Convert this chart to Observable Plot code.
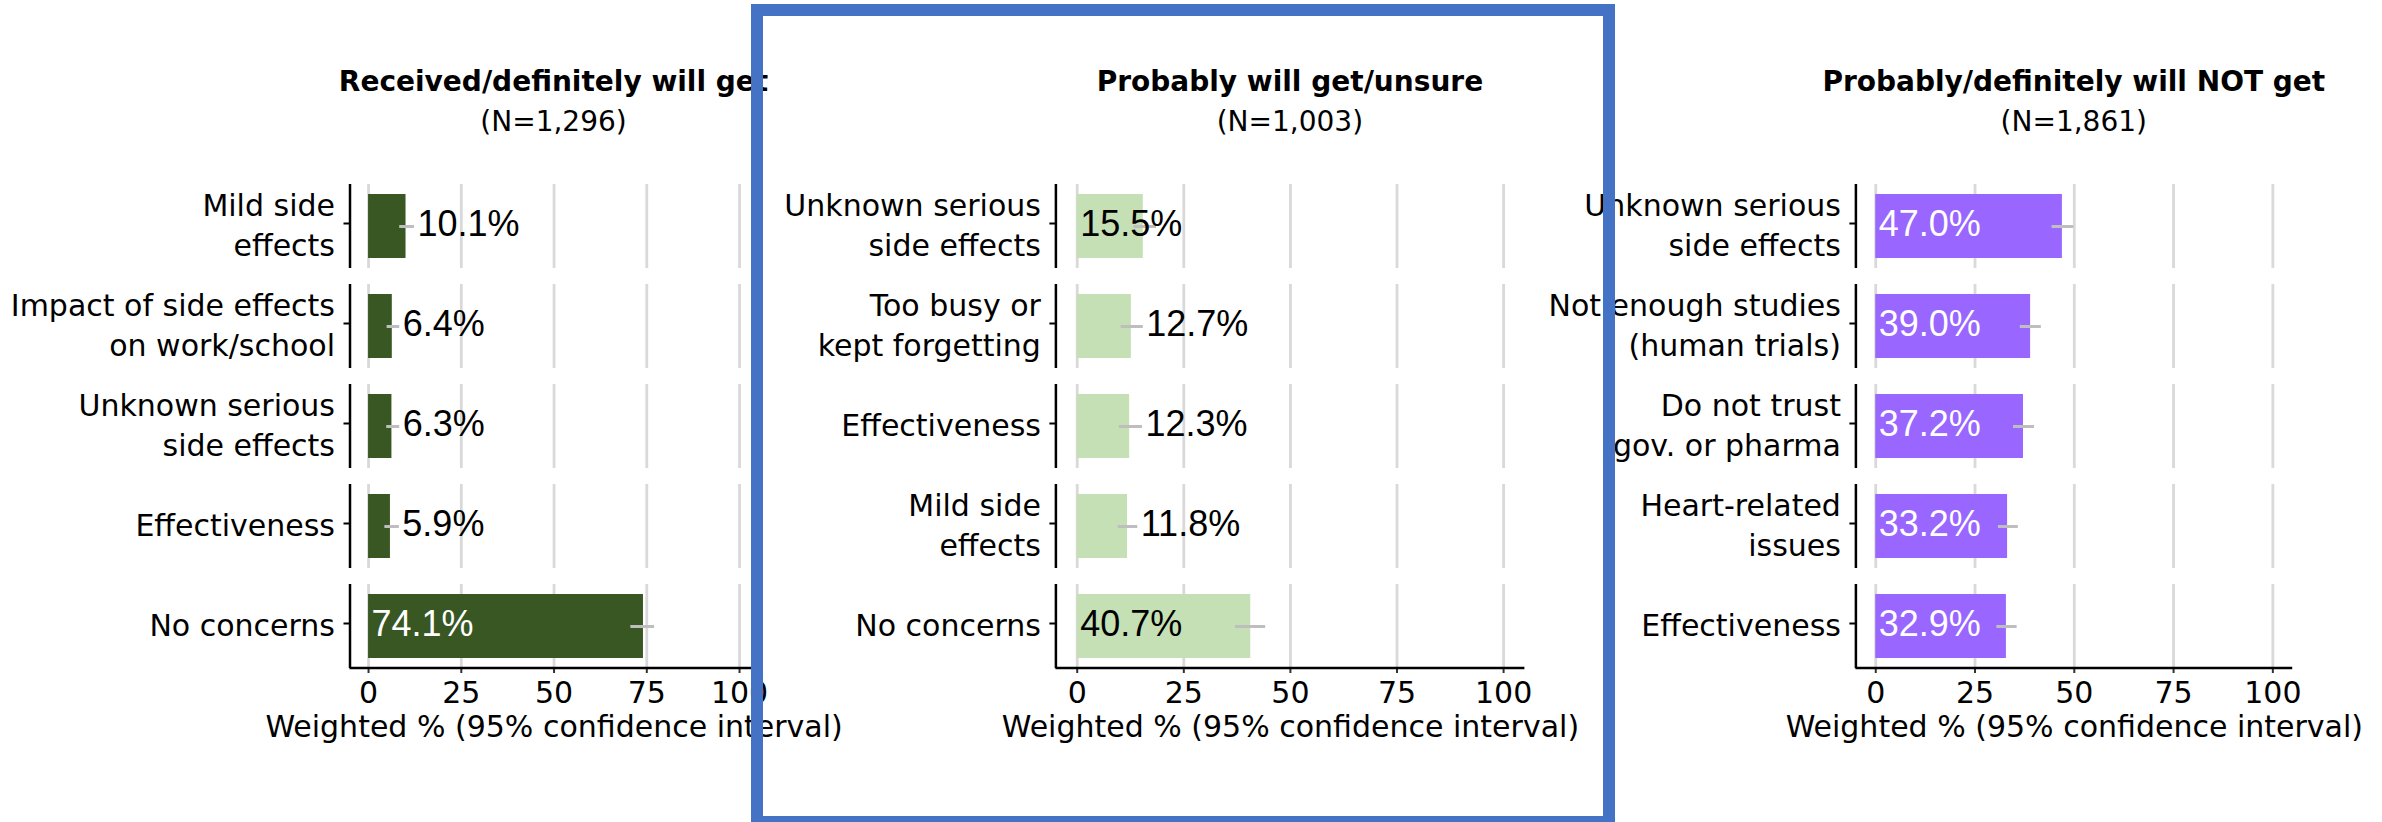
<!DOCTYPE html>
<html>
<head>
<meta charset="utf-8">
<script src="https://cdn.jsdelivr.net/npm/d3@7"></script>
<script src="https://cdn.jsdelivr.net/npm/@observablehq/plot@0.6"></script>
<style>
  html, body { margin: 0; padding: 0; background: #fff; overflow: hidden; }
  #root { position: relative; width: 2382px; height: 822px; background: #fff; overflow: hidden; }
  .layer { position: absolute; left: 0; top: 0; }
  .ptitle { position: absolute; top: 62px; width: 1000px; text-align: center;
            font-family: "DejaVu Sans", sans-serif; font-size: 28px; line-height: 40px;
            color: #000; white-space: nowrap; }
  .ptitle b { font-weight: bold; }
  #box { position: absolute; left: 751px; top: 4px; width: 864px; height: 824px;
         border: 12px solid #4472C4; box-sizing: border-box; pointer-events: none; }
</style>
</head>
<body>
<div id="root"></div>
<script>
// ---------------- data ----------------
const panelTitles = ["Received/definitely will get", "Probably will get/unsure", "Probably/definitely will NOT get"];
const nLabels = ["(N=1,296)", "(N=1,003)", "(N=1,861)"];

const cats1 = ["Mild side\neffects", "Impact of side effects\non work/school", "Unknown serious\nside effects", "Effectiveness", "No concerns"];
const vals1 = [10.1, 6.4, 6.3, 5.9, 74.1];
const lo1   = [8.4, 5.0, 4.9, 4.4, 70.7];
const hi1   = [12.4, 8.4, 8.4, 8.3, 77.1];

const cats2 = ["Unknown serious\nside effects", "Too busy or\nkept forgetting", "Effectiveness", "Mild side\neffects", "No concerns"];
const vals2 = [15.5, 12.7, 12.3, 11.8, 40.7];
const lo2   = [13.3, 10.3, 9.9, 9.6, 37.1];
const hi2   = [18.6, 15.5, 15.3, 14.2, 44.2];

const cats3 = ["Unknown serious\nside effects", "Not enough studies\n(human trials)", "Do not trust\ngov. or pharma", "Heart-related\nissues", "Effectiveness"];
const vals3 = [47.0, 39.0, 37.2, 33.2, 32.9];
const lo3   = [44.4, 36.4, 34.7, 30.9, 30.5];
const hi3   = [49.9, 41.7, 40.0, 35.9, 35.6];

const xTicks = [0, 25, 50, 75, 100];
const axisTitle = "Weighted % (95% confidence interval)";

// ---------------- layout / style ----------------
const W = 2382, H = 822;
const xDomain = [-5, 105];
const panelTop = 184, panelBottom = 668;

const panels = [
  {title: panelTitles[0], n: nLabels[0], cats: cats1, vals: vals1, lo: lo1, hi: hi1,
   fill: "#385723", inText: "#ffffff", outText: "#000000", left: 349.5, right: 757.6},
  {title: panelTitles[1], n: nLabels[1], cats: cats2, vals: vals2, lo: lo2, hi: hi2,
   fill: "#C5E0B4", inText: "#000000", outText: "#000000", left: 1055.4, right: 1524.4},
  {title: panelTitles[2], n: nLabels[2], cats: cats3, vals: vals3, lo: lo3, hi: hi3,
   fill: "#9966FF", inText: "#ffffff", outText: "#000000", left: 1855.4, right: 2292.2}
];

const root = document.getElementById("root");

panels.forEach(p => {
  const rows = p.cats.map((c, i) => ({cat: c, value: p.vals[i], lo: p.lo[i], hi: p.hi[i]}));
  const grid = p.cats.flatMap(c => xTicks.map(t => ({cat: c, t})));
  const inside = d => d.value > 15;

  const chart = Plot.plot({
    width: W,
    height: H,
    marginTop: panelTop,
    marginBottom: H - panelBottom,
    marginLeft: p.left,
    marginRight: W - p.right,
    x: {domain: xDomain},
    y: {domain: p.cats, paddingInner: 0.16, paddingOuter: 0, round: false},
    style: {background: "transparent", fontFamily: "DejaVu Sans, sans-serif", overflow: "visible"},
    marks: [
      Plot.tickX(grid, {x: "t", y: "cat", stroke: "#D9D9D9", strokeWidth: 2.8}),
      Plot.barX(rows, {x: "value", y: "cat", fill: p.fill, insetTop: 10, insetBottom: 10}),
      Plot.ruleY(rows, {y: "cat", x1: "lo", x2: "hi", stroke: "#BEBEBE", strokeWidth: 3}),
      Plot.text(rows, {
        x: d => inside(d) ? 0 : d.hi,
        y: "cat",
        text: d => d.value.toFixed(1) + "%",
        textAnchor: "start",
        dx: 3,
        dy: -2,
        fill: d => inside(d) ? p.inText : p.outText,
        fontFamily: "Liberation Sans, Arial, sans-serif",
        fontSize: 36
      }),
      Plot.tickX(p.cats, {x: xDomain[0], y: d => d, stroke: "#000", strokeWidth: 2.5}),
      Plot.axisY({tickSize: 6, tickPadding: 9, fontSize: 30, lineHeight: 1.333, dy: -3,
                  label: null, stroke: "#000", strokeWidth: 2, fill: "#000"}),
      Plot.axisX({ticks: xTicks, tickSize: 5, tickPadding: 8, fontSize: 30,
                  label: axisTitle, labelAnchor: "center", labelOffset: 68, labelArrow: "none",
                  stroke: "#333", strokeWidth: 2, fill: "#000"})
    ]
  });

  // x-axis baseline drawn from the chart's own scales
  const xs = chart.scale("x"), ys = chart.scale("y");
  d3.select(chart).append("line")
    .attr("x1", xs.range[0]).attr("x2", xs.range[1])
    .attr("y1", ys.range[1]).attr("y2", ys.range[1])
    .attr("stroke", "#000").attr("stroke-width", 2.5);

  chart.classList.add("layer");
  root.appendChild(chart);

  const t = document.createElement("div");
  t.className = "ptitle";
  t.style.left = ((p.left + p.right) / 2 - 500) + "px";
  const b = document.createElement("b");
  b.textContent = p.title;
  t.appendChild(b);
  t.appendChild(document.createElement("br"));
  t.appendChild(document.createTextNode(p.n));
  root.appendChild(t);
});

const box = document.createElement("div");
box.id = "box";
root.appendChild(box);
</script>
</body>
</html>
